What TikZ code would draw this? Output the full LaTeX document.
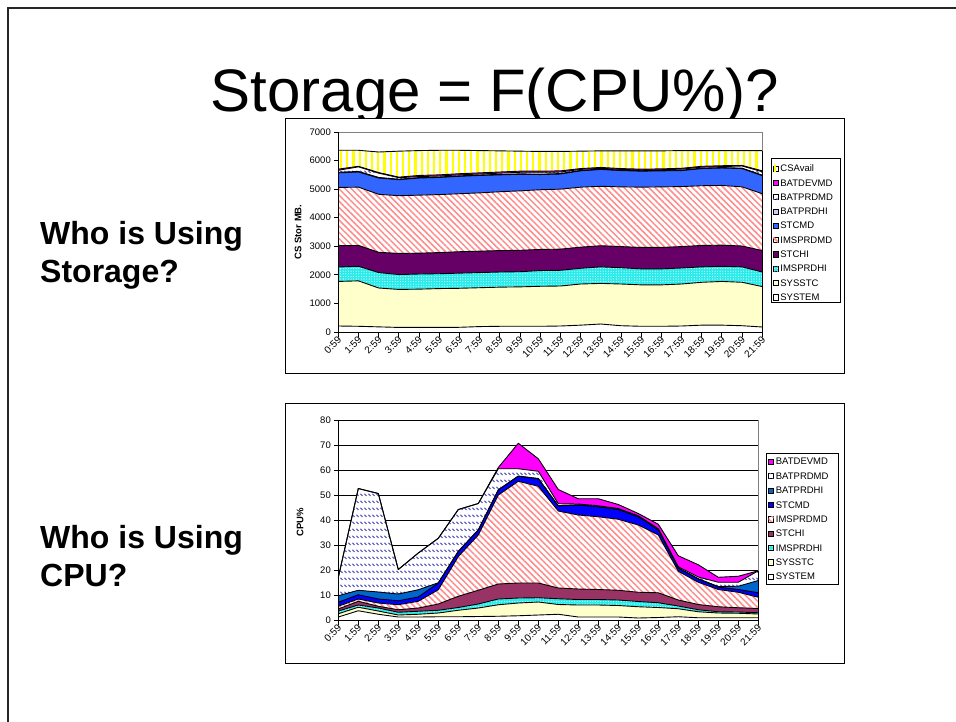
\documentclass[tikz,border=0pt]{standalone}
\usepackage{fontspec}
\setmainfont{Liberation Sans}
\usetikzlibrary{patterns.meta}

% rows of short diagonal dashes
\pgfdeclarepattern{
  name=DashDiag,
  type=uncolored,
  bottom left={\pgfpoint{0pt}{0pt}},
  top right={\pgfpoint{4pt}{7pt}},
  tile size={\pgfpoint{4pt}{7pt}},
  code={
    \pgfsetlinewidth{1.25pt}
    \pgfpathmoveto{\pgfpoint{0.6pt}{4.8pt}}
    \pgfpathlineto{\pgfpoint{3.1pt}{2.3pt}}
    \pgfusepath{stroke}
  }
}

\definecolor{cYellow}{RGB}{255,255,0}
\definecolor{cMagenta}{RGB}{255,0,255}
\definecolor{cLavender}{RGB}{204,204,255}
\definecolor{cStcmdT}{RGB}{51,102,255}
\definecolor{cPink}{RGB}{255,140,140}
\definecolor{cStchiT}{RGB}{102,0,102}
\definecolor{cCyan}{RGB}{40,235,235}
\definecolor{cSysstc}{RGB}{255,255,204}
\definecolor{cDash}{RGB}{85,85,190}
\definecolor{cBatHiB}{RGB}{0,102,204}
\definecolor{cStcmdB}{RGB}{0,0,255}
\definecolor{cStchiB}{RGB}{153,51,102}
\definecolor{cGray}{RGB}{128,128,128}

\tikzset{
  csavail/.style={fill=white,postaction={pattern={Lines[angle=90,distance=6.2pt,line width=2.2pt]},pattern color=cYellow}},
  batdev/.style={fill=cMagenta},
  batmd/.style={fill=white,postaction={pattern=DashDiag,pattern color=cDash}},
  bathiT/.style={fill=cLavender},
  stcmdT/.style={fill=cStcmdT},
  imsmd/.style={fill=white,postaction={pattern={Lines[angle=-45,distance=4.4pt,line width=1.5pt]},pattern color=cPink}},
  stchiT/.style={fill=cStchiT},
  imshi/.style={fill=cCyan,postaction={pattern={Dots[distance=2.6pt,radius=0.55pt]},pattern color=white}},
  sysstc/.style={fill=cSysstc},
  system/.style={fill=white},
  bathiB/.style={fill=cBatHiB},
  stcmdB/.style={fill=cStcmdB},
  stchiB/.style={fill=cStchiB},
  serieline/.style={black,line width=0.9pt,line join=round},
  frame/.style={black,line width=0.9pt,fill=white},
  border/.style={cGray,line width=0.8pt},
  grid/.style={black,line width=0.7pt},
  axis/.style={black,line width=0.9pt},
  ylab/.style={anchor=east,inner sep=0pt,font=\fontsize{9.5}{11}\selectfont},
  xlab/.style={anchor=east,rotate=45,inner sep=0pt,font=\fontsize{10}{12}\selectfont},
  legtext/.style={anchor=west,inner sep=0pt,font=\fontsize{9.5}{11}\selectfont},
  axtitle/.style={rotate=90,inner sep=0pt,font=\bfseries\fontsize{9.5}{11}\selectfont},
  side/.style={anchor=base west,inner sep=0pt,font=\bfseries\fontsize{32}{38}\selectfont},
}

% storage chart, cumulative MB
\def\TSystem{210,200,180,160,160,160,165,190,200,200,200,210,240,280,220,200,200,210,240,240,220,175}
\def\TSysstc{1770,1790,1540,1490,1500,1520,1530,1550,1570,1580,1600,1610,1680,1700,1680,1650,1650,1680,1740,1770,1740,1590}
\def\TImsHi{2275,2300,2080,2010,2030,2040,2060,2080,2100,2110,2150,2160,2230,2280,2250,2210,2210,2240,2280,2300,2280,2100}
\def\TStcHi{3020,3030,2790,2750,2760,2780,2810,2830,2850,2860,2890,2900,2970,3020,2990,2960,2960,2990,3030,3040,3010,2850}
\def\TImsMd{5060,5070,4820,4770,4790,4810,4840,4870,4910,4940,4980,5000,5070,5100,5080,5070,5080,5090,5120,5130,5080,4840}
\def\TStcMd{5570,5600,5390,5330,5390,5410,5450,5480,5500,5520,5510,5530,5640,5690,5650,5630,5640,5650,5720,5740,5720,5470}
\def\TBatHi{5590,5620,5410,5345,5405,5425,5465,5495,5515,5535,5525,5545,5655,5705,5665,5645,5655,5665,5735,5755,5735,5490}
\def\TBatMd{5660,5780,5560,5400,5440,5460,5500,5530,5560,5590,5590,5600,5690,5730,5690,5670,5680,5700,5770,5790,5810,5610}
\def\TBatDev{5700,5800,5580,5420,5480,5500,5540,5570,5600,5630,5630,5640,5720,5760,5720,5700,5710,5730,5800,5820,5830,5640}
\def\TCsa{6360,6360,6300,6330,6350,6360,6360,6350,6340,6330,6320,6320,6330,6340,6340,6340,6340,6350,6350,6350,6350,6350}

% CPU chart, cumulative percent
\def\BSystem{1.2,3.7,2.3,1.2,1.2,1.3,1.3,1.4,1.5,1.7,2.0,2.3,1.2,1.2,1.2,0.8,1.0,1.3,0.9,0.9,0.9,0.9}
\def\BSysstc{2.5,5.1,3.6,2.0,2.3,2.8,3.9,4.8,6.1,6.8,7.2,6.2,6.0,6.0,5.8,5.3,5.0,4.5,3.3,2.8,2.7,2.4}
\def\BImsHi{3.6,6.0,4.8,3.1,3.5,3.9,5.0,6.4,8.4,8.8,8.9,8.5,8.2,8.2,8.0,7.4,6.9,5.6,4.1,3.3,3.2,2.9}
\def\BStcHi{4.4,7.5,5.5,4.1,4.8,6.4,9.5,11.9,14.4,14.8,14.8,12.8,12.4,12.2,11.9,11.1,10.9,8.0,6.2,5.3,4.9,4.6}
\def\BImsMd{5.5,8.4,6.8,6.1,7.5,12.1,25.4,34.0,50.0,55.5,53.5,43.6,42.0,41.3,40.3,38.0,34.0,19.5,15.1,12.2,11.1,9.1}
\def\BStcMd{7.1,10.1,8.4,7.7,9.2,14.8,27.4,36.0,52.0,57.5,56.5,45.6,46.0,45.3,44.2,41.3,36.0,20.8,16.4,13.2,12.2,10.9}
\def\BBatHi{9.7,11.9,11.2,10.4,12.1,14.9,27.5,36.1,52.1,57.6,56.6,45.7,46.1,45.4,44.3,41.4,36.1,20.9,16.5,13.4,13.5,15.8}
\def\BBatMd{17,52.6,50.6,20.2,26.8,32.7,44.2,46.6,60.5,60.5,59.5,46.5,46.4,45.7,44.6,41.7,36.5,21.3,17.2,15.1,15.1,19.7}
\def\BBatDev{17,52.6,50.6,20.2,26.8,32.7,44.2,46.6,61,70.7,64.5,52.2,48.5,48.5,46.2,42.6,38.3,25.7,22.1,17.1,17.5,19.7}

% turn a value list into a polyline "(x,y) -- (x,y) ..."
\newcommand\buildpts[2]{%
  \gdef\pts{}%
  \foreach \v [count=\i from 0] in #2 {%
    \if#1T
      \pgfmathsetmacro\ptx{338.3+20.19*\i}\pgfmathsetmacro\pty{332-\v/35}%
    \else
      \pgfmathsetmacro\ptx{338.3+20*\i}\pgfmathsetmacro\pty{620-2.5*\v}%
    \fi
    \ifnum\i=0 \xdef\pts{(\ptx,\pty)}\else\xdef\pts{\pts -- (\ptx,\pty)}\fi
  }}
\newcommand\areaT[2]{\path[#2] (338.3,332) -- #1 -- (762.3,332) -- cycle;}
\newcommand\areaB[2]{\path[#2] (338.3,620) -- #1 -- (758.3,620) -- cycle;}
\newcommand\edgeline[1]{\draw[serieline] #1;}
\newcommand\seriesT[2]{\buildpts{T}{#1}\expandafter\areaT\expandafter{\pts}{#2}}
\newcommand\seriesB[2]{\buildpts{B}{#1}\expandafter\areaB\expandafter{\pts}{#2}}
\newcommand\edgeT[1]{\buildpts{T}{#1}\expandafter\edgeline\expandafter{\pts}}
\newcommand\edgeB[1]{\buildpts{B}{#1}\expandafter\edgeline\expandafter{\pts}}

% legend entry: name, x of key, y, style, text
\newcommand\legentry[5]{%
  \path[#4,draw=black,line width=0.5pt] (#2,#3-2.6) rectangle (#2+5.2,#3+2.6);
  \node[legtext] (#1) at (#2+7.2,#3) {#5};}

\begin{document}
\begin{tikzpicture}[x=1pt,y=-1pt]
\useasboundingbox (0,0) rectangle (956,721);
\fill[white] (0,0) rectangle (956,721);

% slide edge
\draw[black!85,line width=2.6pt] (8,722) -- (8,8) -- (957,8);

% title and side questions
\node[anchor=base,inner sep=0pt,font=\fontsize{60}{66}\selectfont] (title) at (495,111) {Storage = F(CPU\%)?};
\node[side] (q1a) at (40,244) {Who is Using};
\node[side] (q1b) at (40,282) {Storage?};
\node[side] (q2a) at (40,548) {Who is Using};
\node[side] (q2b) at (40,586) {CPU?};

% ---------- storage chart ----------
\draw[frame] (285,118) rectangle (844,373);
\seriesT{\TCsa}{csavail}
\seriesT{\TBatDev}{batdev}
\seriesT{\TBatMd}{batmd}
\seriesT{\TBatHi}{bathiT}
\seriesT{\TStcMd}{stcmdT}
\seriesT{\TImsMd}{imsmd}
\seriesT{\TStcHi}{stchiT}
\seriesT{\TImsHi}{imshi}
\seriesT{\TSysstc}{sysstc}
\seriesT{\TSystem}{system}
\edgeT{\TCsa}\edgeT{\TBatDev}\edgeT{\TBatMd}\edgeT{\TBatHi}\edgeT{\TStcMd}
\edgeT{\TImsMd}\edgeT{\TStcHi}\edgeT{\TImsHi}\edgeT{\TSysstc}\edgeT{\TSystem}
\draw[border] (338.3,132) -- (762.3,132) -- (762.3,150.6);
\draw[serieline] (762.3,150.6) -- (762.3,332);
\draw[axis] (338.3,132) -- (338.3,332) -- (762.3,332);
\foreach \v [count=\k from 0] in {0,1000,...,7000}{
  \draw[axis] (334,{332-\k*200/7}) -- (338.3,{332-\k*200/7});
  \node[ylab] (ty\k) at (331,{332-\k*200/7}) {\v};
}
\foreach \h in {0,...,21}{
  \draw[axis] ({338.3+20.19*\h},332) -- ({338.3+20.19*\h},336.5);
  \node[xlab] (tx\h) at ({339.8+20.19*\h},338) {\h:59};
}
\node[axtitle] (tyt) at (298,232) {CS Stor MB.};
\draw[black,line width=0.6pt,fill=white] (771,158.5) rectangle (840,302.5);
\legentry{lt0}{773}{168.5}{csavail}{CSAvail}
\legentry{lt1}{773}{182.8}{batdev}{BATDEVMD}
\legentry{lt2}{773}{197.1}{batmd}{BATPRDMD}
\legentry{lt3}{773}{211.4}{bathiT}{BATPRDHI}
\legentry{lt4}{773}{225.7}{stcmdT}{STCMD}
\legentry{lt5}{773}{240.0}{imsmd}{IMSPRDMD}
\legentry{lt6}{773}{254.3}{stchiT}{STCHI}
\legentry{lt7}{773}{268.6}{imshi}{IMSPRDHI}
\legentry{lt8}{773}{282.9}{sysstc}{SYSSTC}
\legentry{lt9}{773}{297.2}{system}{SYSTEM}

% ---------- CPU chart ----------
\draw[frame] (285,403) rectangle (844,663);
\foreach \k in {1,...,8}{
  \draw[grid] (338.3,{620-25*\k}) -- (758.3,{620-25*\k});
}
\seriesB{\BBatDev}{batdev}
\seriesB{\BBatMd}{batmd}
\seriesB{\BBatHi}{bathiB}
\seriesB{\BStcMd}{stcmdB}
\seriesB{\BImsMd}{imsmd}
\seriesB{\BStcHi}{stchiB}
\seriesB{\BImsHi}{imshi}
\seriesB{\BSysstc}{sysstc}
\seriesB{\BSystem}{system}
\edgeB{\BBatDev}\edgeB{\BBatMd}\edgeB{\BBatHi}\edgeB{\BStcMd}
\edgeB{\BImsMd}\edgeB{\BStcHi}\edgeB{\BImsHi}\edgeB{\BSysstc}\edgeB{\BSystem}
\draw[border] (758.3,420) -- (758.3,570.75);
\draw[serieline] (758.3,570.75) -- (758.3,620);
\draw[axis] (338.3,420) -- (338.3,620) -- (758.3,620);
\foreach \v [count=\k from 0] in {0,10,...,80}{
  \draw[axis] (334,{620-25*\k}) -- (338.3,{620-25*\k});
  \node[ylab] (by\k) at (331,{620-25*\k}) {\v};
}
\foreach \h in {0,...,21}{
  \draw[axis] ({338.3+20*\h},620) -- ({338.3+20*\h},624.5);
  \node[xlab] (bx\h) at ({339.8+20*\h},626) {\h:59};
}
\node[axtitle] (byt) at (300,522) {CPU\%};
\draw[black,line width=0.6pt,fill=white] (766,453) rectangle (838,584);
\legentry{lb0}{768.5}{461.7}{batdev}{BATDEVMD}
\legentry{lb1}{768.5}{476.1}{batmd}{BATPRDMD}
\legentry{lb2}{768.5}{490.4}{bathiB}{BATPRDHI}
\legentry{lb3}{768.5}{504.8}{stcmdB}{STCMD}
\legentry{lb4}{768.5}{519.2}{imsmd}{IMSPRDMD}
\legentry{lb5}{768.5}{533.5}{stchiB}{STCHI}
\legentry{lb6}{768.5}{547.9}{imshi}{IMSPRDHI}
\legentry{lb7}{768.5}{562.3}{sysstc}{SYSSTC}
\legentry{lb8}{768.5}{576.7}{system}{SYSTEM}
\end{tikzpicture}
\end{document}
